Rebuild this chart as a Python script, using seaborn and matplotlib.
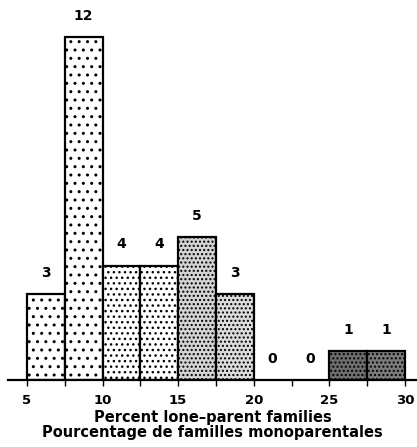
import matplotlib
matplotlib.use('Agg')
import matplotlib.pyplot as plt
import seaborn as sns
import numpy as np
import pandas as pd

# bin centres (percent lone-parent families) and number of areas in each bin
bin_centres = [6.25, 8.75, 11.25, 13.75, 16.25, 18.75, 21.25, 23.75, 26.25, 28.75]
counts = [3, 12, 4, 4, 5, 3, 0, 0, 1, 1]
bin_edges = [5, 7.5, 10, 12.5, 15, 17.5, 20, 22.5, 25, 27.5, 30]
tick_values = [5, 10, 15, 20, 25, 30]

# shading per bar, light dots -> dense dark stipple
face_colors = ['white', 'white', 'white', 'white', '#d4d4d4', '#dcdcdc',
               'white', 'white', '#6e6e6e', '#7a7a7a']
hatches = ['..', '..', '...', '...', '....', '....', '', '', '....', '....']

df = pd.DataFrame({'pct': bin_centres, 'n': counts})

sns.set_style('white')
plt.rcParams['font.family'] = ['DejaVu Sans']
plt.rcParams['text.color'] = 'black'
plt.rcParams['axes.labelcolor'] = 'black'
plt.rcParams['xtick.color'] = 'black'

fig = plt.figure(figsize=(4.17, 4.47), dpi=100)
ax = fig.add_axes([0.019, 0.15, 0.981, 0.85])

sns.histplot(data=df, x='pct', weights='n', bins=bin_edges, ax=ax,
             color='white', edgecolor='black', linewidth=1.6, alpha=1)

for patch, fc, h, n in zip(ax.patches, face_colors, hatches, counts):
    patch.set_facecolor(fc)
    patch.set_hatch(h)
    if n == 0:
        patch.set_linewidth(0)
    x = patch.get_x() + patch.get_width() / 2
    ax.text(x, n + 0.5, str(n), ha='center', va='bottom', fontsize=10,
            fontweight='bold', color='black')

ax.set_xlim(3.74, 30.8)
ax.set_ylim(0, 13.3)
sns.despine(ax=ax, left=True, top=True, right=True)
ax.spines['bottom'].set_linewidth(1.6)
ax.spines['bottom'].set_color('black')
ax.set_yticks([])
ax.set_ylabel('')
ax.set_xticks(tick_values)
ax.set_xticks(bin_edges, minor=True)
ax.tick_params(axis='x', which='both', bottom=True, direction='out', length=4,
               width=1, color='black', labelcolor='black', labelsize=9.5, pad=6)
for lab in ax.get_xticklabels():
    lab.set_fontweight('bold')
ax.set_xlabel('Percent lone\u2013parent families\nPourcentage de familles monoparentales',
              fontsize=10.5, fontweight='bold', linespacing=1.02, labelpad=2,
              color='black')

fig.savefig('out.png', dpi=100)
plt.close(fig)
